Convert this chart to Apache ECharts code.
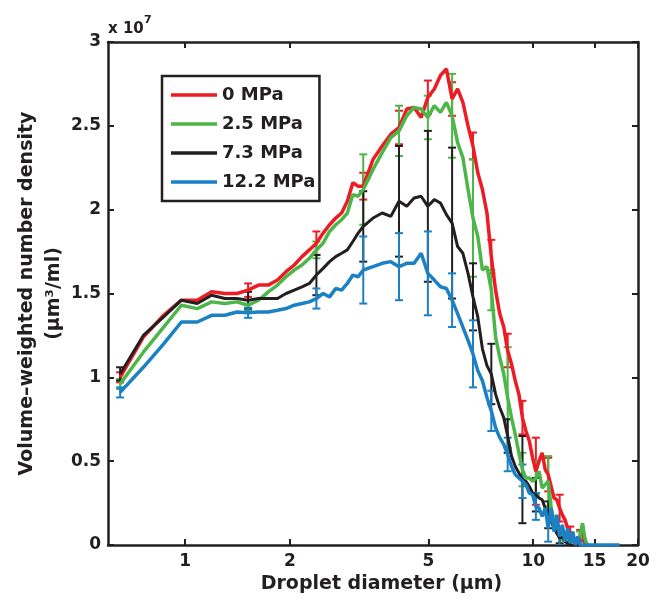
<!DOCTYPE html>
<html><head><meta charset="utf-8">
<script src="https://cdn.jsdelivr.net/npm/echarts@6/dist/echarts.min.js"></script>
<style>html,body{margin:0;padding:0;background:#fff}#c{width:658px;height:606px}</style>
</head><body><div id="c"></div>
<script>
// Droplet diameters (µm)
const diameters = [0.65,0.758,0.867,0.975,1.083,1.191,1.3,1.408,1.516,1.624,1.733,1.841,1.949,2.057,2.166,2.274,2.382,2.49,2.599,2.707,2.815,2.923,3.032,3.14,3.248,
3.465,3.681,3.898,4.114,4.331,4.547,4.764,4.98,5.197,5.413,5.63,5.846,6.063,6.279,6.496,6.712,6.929,7.145,7.362,7.578,7.795,8.011,8.228,8.444,8.661,8.877,9.094,9.31,9.527,9.743,9.96,10.176,10.393,10.609,10.826,11.042,11.259,11.475,11.692,11.908,12.125,12.341,12.558,12.774,12.991,13.207,13.424,13.64,13.857,14.073,14.29,14.506,15.5,16.5,17.7];

// Volume-weighted number density, in units of 10^7 µm³/ml
const mpa0 = [1.00,1.24,1.37,1.46,1.46,1.51,1.50,1.50,1.52,1.55,1.55,1.58,1.63,1.67,1.72,1.76,1.80,1.86,1.91,1.95,1.98,2.05,2.16,2.14,2.14,
2.30,2.38,2.45,2.49,2.60,2.61,2.55,2.67,2.72,2.80,2.84,2.66,2.72,2.64,2.50,2.38,2.22,2.12,1.98,1.72,1.52,1.38,1.30,1.16,1.08,0.98,0.90,0.76,0.68,0.62,0.52,0.44,0.50,0.55,0.45,0.42,0.35,0.28,0.27,0.22,0.18,0.15,0.10,0.07,0.04,0.03,0.01,0.06,0.11,0.0,0,null,null,null,null];
const mpa25 = [0.96,1.15,1.30,1.43,1.41,1.45,1.44,1.45,1.43,1.46,1.51,1.55,1.60,1.64,1.67,1.71,1.76,1.80,1.87,1.91,1.94,1.98,2.09,2.08,2.12,
2.24,2.34,2.43,2.47,2.56,2.61,2.60,2.55,2.62,2.58,2.64,2.56,2.40,2.31,2.12,1.95,1.84,1.64,1.66,1.52,1.24,1.12,1.02,0.88,0.76,0.66,0.55,0.45,0.40,0.40,0.38,0.40,0.44,0.34,0.36,0.38,0.22,0.15,0.10,0.05,0.03,0.02,0.04,0.02,0.05,0.01,0.03,0.06,0.13,0.04,0,0,null,null,null];
const mpa73 = [1.02,1.25,1.36,1.46,1.44,1.49,1.47,1.47,1.46,1.47,1.47,1.47,1.50,1.52,1.54,1.56,1.61,1.65,1.69,1.72,1.74,1.76,1.81,1.86,1.90,
1.95,1.98,1.96,2.05,2.02,2.07,2.08,2.02,2.06,2.04,1.97,1.92,1.78,1.74,1.62,1.48,1.36,1.17,1.07,1.02,0.90,0.82,0.76,0.65,0.53,0.47,0.43,0.39,0.38,0.35,0.31,0.30,0.28,0.27,0.22,0.18,0.14,0.10,0.07,0.04,0.05,0.02,0.01,0,0,0,0,0,null,null,null,null,null,null,null];
const mpa122 = [0.91,1.06,1.20,1.33,1.33,1.37,1.37,1.39,1.385,1.39,1.39,1.40,1.41,1.43,1.44,1.45,1.47,1.50,1.48,1.53,1.52,1.56,1.61,1.60,1.64,
1.66,1.68,1.69,1.66,1.68,1.68,1.74,1.62,1.58,1.54,1.53,1.46,1.38,1.30,1.22,1.14,1.04,0.98,0.88,0.80,0.70,0.64,0.60,0.54,0.47,0.42,0.40,0.38,0.36,0.31,0.30,0.23,0.22,0.17,0.22,0.10,0.22,0.08,0.18,0.05,0.12,0.02,0.10,0.01,0.08,0.0,0.05,0,0,0,0,0,0,0,0];

// error bars: positions (indices into diameters) and half-widths
const errIndex = [0,8,16,24,28,32,36,40,44,48,52,56,60,64,68,72];
const err0 = [0.03,0.04,0.07,0.08,0.10,0.10,0.10,0.08,0.10,0.10,0.10,0.20,0.10,0.08,0.04,0.03];
const err25 = [0.03,0.03,0.05,0.21,0.15,0.13,0.25,0.35,0.12,0.30,0.10,0.10,0.15,0.05,0.03,0.02];
const err73 = [0.04,0.05,0.12,0.21,0.33,0.45,0.45,0.20,0.18,0.10,0.26,0.10,0.08,0.03,0.02,0];
const err122 = [0.03,0.03,0.06,0.20,0.20,0.25,0.16,0.20,0.12,0.10,0.10,0.08,0.08,0.05,0.02,0.02];

const names = ['0 MPa','2.5 MPa','7.3 MPa','12.2 MPa'];
const xTickLabels = [1,2,5,10,15,20];
const xMin = 0.6, xMax = 20;
const yMin = 0, yMax = 3, yStep = 0.5;

const L = Math.log10;
const INK = '#231f20';
const FONT = 'DejaVu Sans';

function lineSeries(name, vals, color, width) {
  const data = [];
  diameters.forEach((d, i) => { if (vals[i] != null) data.push([L(d), vals[i]]); });
  return { name, type: 'line', data, symbol: 'none', smooth: false,
    lineStyle: { color, width }, itemStyle: { color }, z: 3, clip: true };
}
function errSeries(id, vals, errs, color) {
  const data = [];
  errIndex.forEach((k, j) => { if (errs[j] > 0 && vals[k] != null) data.push([L(diameters[k]), vals[k], errs[j]]); });
  return { name: id, type: 'custom', data, z: 3, clip: true, encode: { x: 0, y: 1 },
    renderItem: (params, api) => {
      const x = api.value(0), y = api.value(1), e = api.value(2);
      const t = api.coord([x, y + e]), b = api.coord([x, y - e]);
      const hw = 4, st = { stroke: color, lineWidth: 2 };
      return { type: 'group', children: [
        { type: 'line', shape: { x1: t[0], y1: t[1], x2: b[0], y2: b[1] }, style: st },
        { type: 'line', shape: { x1: t[0] - hw, y1: t[1], x2: t[0] + hw, y2: t[1] }, style: st },
        { type: 'line', shape: { x1: b[0] - hw, y1: b[1], x2: b[0] + hw, y2: b[1] }, style: st }
      ]};
    } };
}

const colors = ['#ed1c24', '#4cb748', INK, '#1b80c4'];
const tickVals = xTickLabels.map(L);
const axisLine = { show: true, onZero: false, lineStyle: { color: INK, width: 2.5 } };
const tick = { show: true, inside: true, length: 6, lineStyle: { color: INK, width: 2 } };
const labelStyle = { fontSize: 17, fontWeight: 'bold', fontFamily: FONT, color: INK };

const chart = echarts.init(document.getElementById('c'));
chart.setOption({
  animation: false,
  backgroundColor: '#fff',
  grid: { left: 108, right: 20, top: 42, bottom: 61, containLabel: false },
  legend: { data: names, orient: 'vertical', left: 162, top: 76, padding: [9, 4, 9, 9], itemGap: 9,
    icon: 'rect', itemWidth: 46, itemHeight: 3.5, borderColor: INK, borderWidth: 2.5, backgroundColor: '#fff',
    selectedMode: false, textStyle: { fontSize: 18, fontWeight: 'bold', fontFamily: FONT, color: INK, lineHeight: 20 } },
  xAxis: [
    { type: 'value', min: L(xMin), max: L(xMax), position: 'bottom', axisLine, splitLine: { show: false },
      axisTick: Object.assign({ customValues: tickVals }, tick),
      axisLabel: Object.assign({ customValues: tickVals, margin: 8,
        formatter: v => String(Math.round(Math.pow(10, v))) }, labelStyle),
      name: 'Droplet diameter (µm)', nameLocation: 'middle', nameGap: 28,
      nameTextStyle: { fontSize: 19, fontWeight: 'bold', fontFamily: FONT, color: INK, padding: [0, 0, 0, 17] } },
    { type: 'value', min: L(xMin), max: L(xMax), position: 'top', axisLine, splitLine: { show: false },
      axisTick: Object.assign({ customValues: tickVals }, tick), axisLabel: { show: false } }
  ],
  yAxis: [
    { type: 'value', min: yMin, max: yMax, interval: yStep, position: 'left', axisLine, axisTick: tick,
      splitLine: { show: false }, axisLabel: Object.assign({ margin: 7, formatter: v => String(v) }, labelStyle),
      name: 'Volume–weighted number density\n(µm³/ml)', nameLocation: 'middle', nameRotate: 90, nameGap: 40,
      nameMoveOverlap: false,
      nameTextStyle: { fontSize: 19, fontWeight: 'bold', fontFamily: FONT, color: INK, lineHeight: 27, align: 'center' } },
    { type: 'value', min: yMin, max: yMax, interval: yStep, position: 'right', axisLine, axisTick: tick,
      splitLine: { show: false }, axisLabel: { show: false } }
  ],
  graphic: [
    { type: 'text', left: 108, top: 22, style: { text: 'x 10', font: 'bold 15px "DejaVu Sans"', fill: INK } },
    { type: 'text', left: 144, top: 15, style: { text: '7', font: 'bold 11px "DejaVu Sans"', fill: INK } }
  ],
  series: [
    lineSeries(names[0], mpa0, colors[0], 3.5), errSeries('e0', mpa0, err0, colors[0]),
    lineSeries(names[1], mpa25, colors[1], 3.5), errSeries('e1', mpa25, err25, colors[1]),
    lineSeries(names[2], mpa73, colors[2], 3), errSeries('e2', mpa73, err73, colors[2]),
    lineSeries(names[3], mpa122, colors[3], 3.5), errSeries('e3', mpa122, err122, colors[3])
  ]
});
</script></body></html>
